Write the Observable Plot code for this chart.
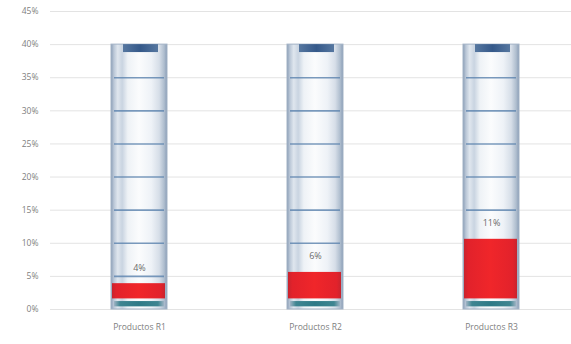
<!DOCTYPE html>
<html>
<head>
<meta charset="utf-8">
<script src="https://cdn.jsdelivr.net/npm/d3@7"></script>
<script src="https://cdn.jsdelivr.net/npm/@observablehq/plot@0.6"></script>
<style>
  html, body { margin: 0; padding: 0; background: #fff; }
  #chart { width: 571px; height: 344px; }
</style>
</head>
<body>
<div id="chart"></div>
<script>
// ---- data ----
const categories = ["Productos R1", "Productos R2", "Productos R3"];
const values = [0.039, 0.056, 0.106];
const valueLabels = ["4%", "6%", "11%"];
const yTicks = [0, 0.05, 0.10, 0.15, 0.20, 0.25, 0.30, 0.35, 0.40, 0.45];
const tubeMax = 0.40;
const tubeMarks = [0.05, 0.10, 0.15, 0.20, 0.25, 0.30, 0.35];

const rows = categories.map((c, i) => ({cat: c, value: values[i], label: valueLabels[i]}));
const markRows = categories.flatMap(c => tubeMarks.map(m => ({cat: c, level: m})));

const chart = Plot.plot({
  width: 571,
  height: 344,
  marginTop: 11,
  marginBottom: 35,
  marginLeft: 50,
  marginRight: 0,
  style: {fontFamily: "'Open Sans', sans-serif", fontSize: "8.5px", color: "#808080", background: "#fff"},
  x: {domain: categories, range: [50, 579], padding: 0, label: null, tickSize: 0, tickPadding: 14},
  y: {domain: [0, 0.45], label: null, ticks: yTicks, tickFormat: d => Math.round(d * 100) + "%", tickSize: 0, tickPadding: 12},
  marks: [
    Plot.ruleY(yTicks, {stroke: "#e3e3e3", strokeWidth: 1}),
    // glass tube
    Plot.barY(rows, {x: "cat", y1: 0, y2: tubeMax, fill: "url(#glass)", stroke: "#a3b3c6", strokeWidth: 1, insetLeft: 60, insetRight: 60}),
    // graduation marks
    Plot.tickY(markRows, {x: "cat", y: "level", stroke: "#6287b0", strokeWidth: 1.6, strokeOpacity: 0.85, insetLeft: 63, insetRight: 63}),
    // top cap
    Plot.barY(rows, {x: "cat", y1: tubeMax - 0.012, y2: tubeMax, fill: "url(#cap)", insetLeft: 72, insetRight: 69}),
    // red fill
    Plot.barY(rows, {x: "cat", y1: 0.016, y2: "value", fill: "url(#red)", insetLeft: 61, insetRight: 62}),
    // bottom cap
    Plot.barY(rows, {x: "cat", y1: 0.004, y2: 0.012, fill: "url(#base)", insetLeft: 63, insetRight: 63}),
    // value labels
    Plot.text(rows, {x: "cat", y: "value", text: "label", dy: -16, fill: "#6b6b6b", fontSize: 9})
  ]
});

document.getElementById("chart").appendChild(chart);

const defs = d3.select(chart).insert("defs", ":first-child");
function grad(id, stops) {
  const g = defs.append("linearGradient").attr("id", id).attr("x1", "0").attr("x2", "1").attr("y1", "0").attr("y2", "0");
  stops.forEach(([o, c]) => g.append("stop").attr("offset", o).attr("stop-color", c));
}
grad("glass", [[0, "#8a9db6"], [0.05, "#b9c6d6"], [0.12, "#dfe6ee"], [0.2, "#c9d4e1"], [0.3, "#eef2f6"], [0.5, "#fbfcfd"], [0.72, "#eef2f7"], [0.86, "#d6dee8"], [0.95, "#aebdce"], [1, "#8a9db6"]]);
grad("red", [[0, "#c8242e"], [0.08, "#e2222b"], [0.5, "#f0262a"], [0.92, "#e2222b"], [1, "#c8242e"]]);
grad("cap", [[0, "#5677a0"], [0.5, "#35598a"], [1, "#5677a0"]]);
grad("base", [[0, "#9fb3c4"], [0.12, "#3f8591"], [0.5, "#2e7a87"], [0.88, "#3f8591"], [1, "#9fb3c4"]]);
</script>
</body>
</html>
